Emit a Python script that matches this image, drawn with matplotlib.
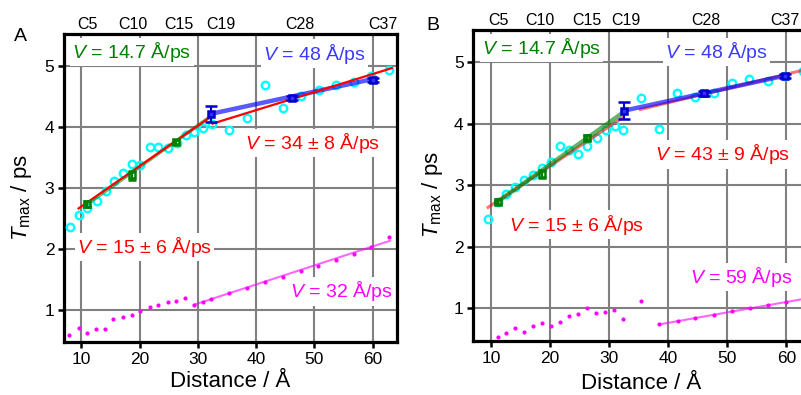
import numpy as np
from matplotlib import pyplot as plt

plt.rcParams['font.family'] = ['Liberation Sans', 'DejaVu Sans']
plt.rcParams['mathtext.fontset'] = 'custom'
plt.rcParams['mathtext.rm'] = 'Liberation Sans'
plt.rcParams['mathtext.it'] = 'Liberation Sans:italic'

# ---------------- panel A ----------------
a_dist = [8.0, 9.5, 11.0, 12.6, 14.2, 15.6, 17.1, 18.6, 20.1, 21.7, 23.2, 24.8, 26.4, 27.9,
          29.4, 30.9, 32.4, 35.4, 38.5, 41.6, 44.6, 47.7, 50.8, 53.8, 56.8, 59.8, 62.9]
a_tmax = [2.36, 2.55, 2.67, 2.78, 2.95, 3.11, 3.24, 3.39, 3.38, 3.67, 3.66, 3.65, 3.74, 3.86,
          3.92, 3.98, 4.05, 3.94, 4.15, 4.69, 4.30, 4.51, 4.60, 4.68, 4.74, 4.83, 4.93]
a_mag_dist = [7.9, 9.5, 11.0, 12.5, 14.1, 15.5, 17.1, 18.6, 20.1, 21.7, 23.2, 24.8, 26.3, 27.8,
              29.3, 30.8, 32.3, 35.4, 38.5, 41.5, 44.6, 47.7, 50.7, 53.7, 56.8, 59.8, 62.8]
a_mag_t = [0.585, 0.695, 0.61, 0.68, 0.68, 0.84, 0.88, 0.92, 0.98, 1.05, 1.08, 1.12, 1.14, 1.19,
           1.08, 1.13, 1.18, 1.27, 1.36, 1.45, 1.54, 1.63, 1.72, 1.81, 1.91, 2.02, 2.19]
a_green_x = [11.0, 18.6, 26.3]
a_green_y = [2.73, 3.20, 3.75]
a_green_err = [0.05, 0.07, 0.04]
a_blue_x = [32.2, 46.2, 60.0]
a_blue_y = [4.21, 4.47, 4.77]
a_blue_err = [0.13, 0.04, 0.03]
a_fit_green = ([11.0, 32.2], [2.73, 4.17])
a_fit_blue = ([32.2, 60.0], [4.21, 4.78])
a_fit_red1 = ([9.5, 32.3], [2.66, 4.17])
a_fit_red2 = ([32.5, 63.3], [4.05, 4.96])
a_fit_mag = ([29.3, 63.0], [1.08, 2.13])
a_top_pos = [11.1, 18.8, 26.7, 34.0, 47.5, 61.8]

# ---------------- panel B ----------------
b_dist = [9.55, 11.1, 12.5, 14.0, 15.6, 17.1, 18.7, 20.1, 21.7, 23.2, 24.7, 26.3, 27.9,
          29.4, 30.96, 32.4, 35.4, 38.5, 41.5, 44.6, 47.7, 50.7, 53.7, 56.8, 59.8, 62.8]
b_tmax = [2.45, 2.72, 2.85, 2.97, 3.09, 3.17, 3.28, 3.37, 3.64, 3.57, 3.50, 3.64, 3.76,
          3.89, 3.96, 3.89, 4.41, 3.92, 4.50, 4.44, 4.49, 4.66, 4.72, 4.69, 4.78, 4.86]
b_mag_dist = [11.1, 12.6, 14.1, 15.6, 17.1, 18.6, 20.2, 21.7, 23.2, 24.7, 26.3, 27.8, 29.3,
              30.8, 32.4, 35.4, 38.5, 41.6, 44.6, 47.7, 50.7, 53.8, 56.8, 59.9]
b_mag_t = [0.54, 0.60, 0.68, 0.62, 0.72, 0.76, 0.72, 0.78, 0.87, 0.91, 1.01, 0.92, 0.94,
           0.97, 0.83, 1.12, 0.74, 0.79, 0.84, 0.90, 0.95, 1.00, 1.05, 1.11]
b_green_x = [11.1, 18.7, 26.3]
b_green_y = [2.73, 3.18, 3.77]
b_green_err = [0.04, 0.06, 0.04]
b_blue_x = [32.5, 46.0, 59.8]
b_blue_y = [4.21, 4.49, 4.77]
b_blue_err = [0.14, 0.04, 0.03]
b_fit_green = ([11.1, 32.5], [2.73, 4.19])
b_fit_blue = ([32.5, 59.8], [4.21, 4.78])
b_fit_red1 = ([9.5, 32.3], [2.64, 4.10])
b_fit_red2 = ([35.3, 64.2], [4.23, 4.90])
b_fit_mag = ([38.5, 64.2], [0.74, 1.175])
b_top_pos = [11.2, 18.2, 26.2, 32.9, 46.3, 59.7]

top_labels = ['C5', 'C10', 'C15', 'C19', 'C28', 'C37']

box = dict(facecolor='white', edgecolor='none', pad=1.5)


def draw_panel(ax, dist, tmax, mdist, mt, gx, gy, ge, bx, by, be,
               fg, fb, fr1, fr2, fm, top_pos, texts, soft):
    ax.set_xlim(7.0, 64.2)
    ax.set_ylim(0.47, 5.52)
    ax.set_axisbelow(True)
    ax.grid(True, color='#808080', lw=1.5)
    for s in ax.spines.values():
        s.set_linewidth(2.3)
    ax.tick_params(direction='out', length=4, width=1.8, labelsize=12.5, pad=3)
    ax.set_xticks([10, 20, 30, 40, 50, 60])
    ax.set_yticks([1, 2, 3, 4, 5])

    # magenta
    ax.plot(mdist, mt, 'o', color='magenta', ms=3.0, mew=0, zorder=4)
    ax.plot(fm[0], fm[1], color='magenta', lw=1.5, alpha=0.6, zorder=4)
    # cyan
    ax.plot(dist, tmax, 'o', mfc='none', mec='cyan', ms=5.4, mew=1.7, zorder=4)

    if soft:
        ax.plot(fr1[0], fr1[1], color='red', lw=2.2, alpha=0.55, zorder=5)
        ax.plot(fr2[0], fr2[1], color='red', lw=2.2, alpha=0.55, zorder=5)
        ax.plot(fg[0], fg[1], color='green', lw=3.2, alpha=0.6, zorder=5)
        ax.plot(fb[0], fb[1], color='blue', lw=3.2, alpha=0.65, zorder=5)
    else:
        ax.plot(fg[0], fg[1], color='green', lw=2.5, alpha=0.55, zorder=5)
        ax.plot(fb[0], fb[1], color='blue', lw=3.2, alpha=0.65, zorder=5)
        ax.plot(fr1[0], fr1[1], color='red', lw=1.6, zorder=6)
        ax.plot(fr2[0], fr2[1], color='red', lw=1.6, zorder=6)

    ax.errorbar(gx, gy, yerr=ge, fmt='s', color='green', mfc='none', ms=4, mew=1.8,
                capsize=3, elinewidth=1.5, capthick=1.5, zorder=7)
    ax.errorbar(bx, by, yerr=be, fmt='s', color='#0000cc', mfc='#3333ff', ms=4.5, mew=1.8,
                capsize=4, elinewidth=1.5, capthick=1.8, zorder=7)

    for (tx, ty, s, c) in texts:
        ax.text(tx, ty, s, color=c, fontsize=14, ha='left', va='center', bbox=box, zorder=3)

    trans = ax.get_xaxis_transform()
    for p, lab in zip(top_pos, top_labels):
        ax.text(p, 1.03, lab, transform=trans, ha='center', va='center', fontsize=11.5)

    ax.set_xlabel('Distance / Å', fontsize=16)
    ax.set_ylabel(r'$T_{\mathrm{max}}$ / ps', fontsize=16)
    return ax


fig = plt.figure(figsize=(8.01, 3.95), dpi=100)
axA = fig.add_axes([64 / 801, 53 / 395, 333 / 801, 308 / 395])
axB = fig.add_axes([473.3 / 801, 54 / 395, 338 / 801, 311 / 395])

draw_panel(axA, a_dist, a_tmax, a_mag_dist, a_mag_t, a_green_x, a_green_y, a_green_err,
           a_blue_x, a_blue_y, a_blue_err, a_fit_green, a_fit_blue, a_fit_red1, a_fit_red2,
           a_fit_mag, a_top_pos,
           [(8.45, 5.23, r'$V$ = 14.7 Å/ps', 'green'),
            (41.2, 5.20, r'$V$ = 48 Å/ps', '#3a3aff'),
            (38.1, 3.73, r'$V$ = 34 ± 8 Å/ps', 'red'),
            (9.24, 2.03, r'$V$ = 15 ± 6 Å/ps', 'red'),
            (45.8, 1.30, r'$V$ = 32 Å/ps', 'magenta')], False)
draw_panel(axB, b_dist, b_tmax, b_mag_dist, b_mag_t, b_green_x, b_green_y, b_green_err,
           b_blue_x, b_blue_y, b_blue_err, b_fit_green, b_fit_blue, b_fit_red1, b_fit_red2,
           b_fit_mag, b_top_pos,
           [(8.47, 5.23, r'$V$ = 14.7 Å/ps', 'green'),
            (39.4, 5.16, r'$V$ = 48 Å/ps', '#3a3aff'),
            (37.7, 3.50, r'$V$ = 43 ± 9 Å/ps', 'red'),
            (13.1, 2.36, r'$V$ = 15 ± 6 Å/ps', 'red'),
            (43.6, 1.51, r'$V$ = 59 Å/ps', 'magenta')], True)

axA.xaxis.set_label_coords(0.5, -0.094)
axA.xaxis.label.set_va('top')
axA.yaxis.set_label_coords(-0.09, 0.47)
axB.xaxis.set_label_coords((640.8 - 473.3) / 338, -0.104)
axB.xaxis.label.set_va('top')
axB.yaxis.set_label_coords(-0.084, 0.47)

fig.text(20 / 801, 1 - 36.5 / 395, 'A', fontsize=14, ha='center', va='center')
fig.text(433 / 801, 1 - 26 / 395, 'B', fontsize=14, ha='center', va='center')

fig.savefig('out.png', dpi=100)
